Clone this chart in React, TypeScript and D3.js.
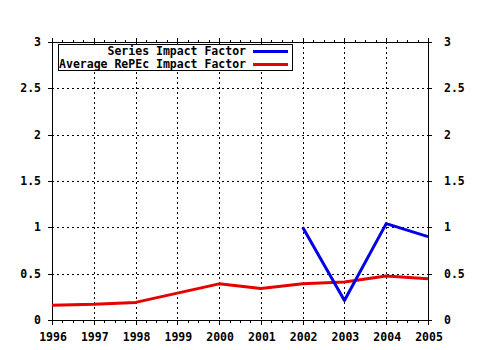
import React from "react";
import * as d3 from "d3";

const years = [1996, 1997, 1998, 1999, 2000, 2001, 2002, 2003, 2004, 2005];
const seriesYears = [2002, 2003, 2004, 2005];
const seriesImpact = [1.0, 0.21, 1.04, 0.9];
const averageImpact = [0.16, 0.17, 0.19, 0.29, 0.39, 0.34, 0.39, 0.41, 0.475, 0.445];
const yTicks = [0, 0.5, 1, 1.5, 2, 2.5, 3];
const yTickLabels = ["0", "0.5", "1", "1.5", "2", "2.5", "3"];
const legendLabels = ["Series Impact Factor", "Average RePEc Impact Factor"];
const colors = ["#0000e6", "#e60000"];

const W = 480;
const H = 350;
const left = 52;
const right = 428;
const top = 42;
const bottom = 320;
const FONT = "'DejaVu Sans Mono', 'Liberation Mono', monospace";

export default function App() {
  const x = d3.scaleLinear().domain([1996, 2005]).range([left, right]);
  const y = d3.scaleLinear().domain([0, 3]).range([bottom, top]);
  const line = d3
    .line<[number, number]>()
    .x((d) => x(d[0]))
    .y((d) => y(d[1]));

  const minor: number[] = [];
  for (let i = 0; i < years.length - 1; i++) {
    for (let k = 1; k < 4; k++) minor.push(years[i] + k / 4);
  }

  const seriesPts: [number, number][] = seriesYears.map((yr, i) => [yr, seriesImpact[i]]);
  const avgPts: [number, number][] = years.map((yr, i) => [yr, averageImpact[i]]);

  return (
    <svg
      width={W}
      height={H}
      style={{ position: "absolute", left: 0, top: 0, background: "#fff" }}
      shapeRendering="crispEdges"
    >
      <rect x={0} y={0} width={W} height={H} fill="#fff" />
      {/* grid */}
      {years.slice(1, -1).map((yr) => (
        <line
          key={"gx" + yr}
          x1={Math.round(x(yr)) + 0.5}
          x2={Math.round(x(yr)) + 0.5}
          y1={top}
          y2={bottom}
          stroke="#000"
          strokeDasharray="2,3"
        />
      ))}
      {yTicks.slice(1, -1).map((v) => (
        <line
          key={"gy" + v}
          x1={left}
          x2={right}
          y1={Math.round(y(v)) + 0.5}
          y2={Math.round(y(v)) + 0.5}
          stroke="#000"
          strokeDasharray="2,3"
        />
      ))}
      {/* axes frame */}
      <line x1={left + 0.5} x2={left + 0.5} y1={top} y2={bottom + 1} stroke="#000" />
      <line x1={right + 0.5} x2={right + 0.5} y1={top} y2={bottom + 1} stroke="#000" />
      <line x1={left} x2={right + 1} y1={top + 0.5} y2={top + 0.5} stroke="#000" />
      <line x1={left} x2={right + 1} y1={bottom + 0.5} y2={bottom + 0.5} stroke="#000" />
      {/* x ticks */}
      {years.map((yr) => {
        const px = Math.round(x(yr)) + 0.5;
        return (
          <g key={"xt" + yr}>
            <line x1={px} x2={px} y1={bottom} y2={bottom + 5} stroke="#000" />
            <line x1={px} x2={px} y1={top - 4} y2={top} stroke="#000" />
          </g>
        );
      })}
      {minor.map((m, i) => {
        const px = Math.round(x(m)) + 0.5;
        return (
          <g key={"mt" + i}>
            <line x1={px} x2={px} y1={bottom} y2={bottom + 3} stroke="#000" />
            <line x1={px} x2={px} y1={top - 2} y2={top} stroke="#000" />
          </g>
        );
      })}
      {/* y ticks */}
      {yTicks.map((v) => {
        const py = Math.round(y(v)) + 0.5;
        return (
          <g key={"yt" + v}>
            <line x1={left - 4} x2={left} y1={py} y2={py} stroke="#000" />
            <line x1={right} x2={right + 4} y1={py} y2={py} stroke="#000" />
          </g>
        );
      })}
      {/* labels */}
      <g fontFamily={FONT} fontWeight="bold" fontSize={11.5} fill="#000">
        {yTicks.map((v, i) => (
          <g key={"yl" + v}>
            <text x={41} y={y(v) + 4} textAnchor="end">
              {yTickLabels[i]}
            </text>
            <text x={444} y={y(v) + 4} textAnchor="start">
              {yTickLabels[i]}
            </text>
          </g>
        ))}
        {years.map((yr) => (
          <text key={"xl" + yr} x={x(yr) + 1} y={341} textAnchor="middle">
            {yr}
          </text>
        ))}
      </g>
      {/* data lines */}
      <g shapeRendering="auto">
        <path d={line(avgPts) || ""} fill="none" stroke={colors[1]} strokeWidth={3} strokeLinejoin="round" />
        <path d={line(seriesPts) || ""} fill="none" stroke={colors[0]} strokeWidth={3} strokeLinejoin="round" />
      </g>
      {/* legend */}
      <rect x={58.5} y={44.5} width={234} height={26} fill="#fff" stroke="#000" />
      <g fontFamily={FONT} fontWeight="bold" fontSize={11.5} fill="#000">
        {legendLabels.map((l, i) => (
          <text key={l} x={246} y={55 + i * 13} textAnchor="end">
            {l}
          </text>
        ))}
      </g>
      {legendLabels.map((l, i) => (
        <line
          key={"ll" + l}
          x1={253}
          x2={288}
          y1={51 + i * 13}
          y2={51 + i * 13}
          stroke={colors[i]}
          strokeWidth={3}
        />
      ))}
    </svg>
  );
}
